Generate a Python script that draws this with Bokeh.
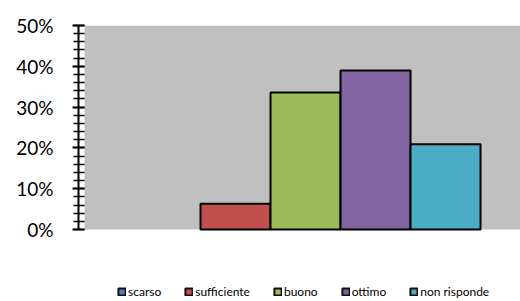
from bokeh.plotting import figure
from bokeh.models import ColumnDataSource, Range1d, NumeralTickFormatter, BoxAnnotation, Legend, LegendItem, SingleIntervalTicker
from bokeh.embed import file_html
from bokeh.resources import INLINE

categories = ["scarso", "sufficiente", "buono", "ottimo", "non risponde"]
values = [0.0, 0.063, 0.336, 0.390, 0.209]
colors = ["#4F81BD", "#C0504D", "#9BBB59", "#8064A2", "#4BACC6"]
positions = [0, 1, 2, 3, 4]

outline = ["black" if v > 0 else None for v in values]
src = ColumnDataSource(dict(x=positions, top=values, cat=categories, color=colors, lc=outline))

p = figure(width=520, height=301, output_backend="svg", toolbar_location=None,
           x_range=Range1d(-1.243, 5.071), y_range=Range1d(-0.1765, 0.5),
           min_border_left=78, min_border_right=0, min_border_top=25, min_border_bottom=0)
p.outline_line_color = None
p.background_fill_color = "white"
p.xgrid.visible = False
p.ygrid.visible = False
p.xaxis.visible = False

bg = BoxAnnotation(left=-1.157, bottom=0, fill_color="#C0C0C0", fill_alpha=1.0,
                   line_alpha=0, level="underlay")
p.add_layout(bg)

r = p.vbar(x="x", top="top", bottom=0, width=1.0, source=src, fill_color="color",
           line_color="lc", line_width=2)
# renderer used only for the legend swatches (all with black outline)
r_leg = p.vbar(x="x", top="top", bottom=0, width=1.0, source=src, fill_color="color",
               line_color="#111111", line_width=2, visible=False)

items = [LegendItem(label=c, renderers=[r_leg], index=i) for i, c in enumerate(categories)]
leg = Legend(items=items, orientation="horizontal", location=(39, 2))
leg.border_line_color = None
leg.background_fill_alpha = 0
leg.inactive_fill_alpha = 0
leg.glyph_width = 9
leg.glyph_height = 9
leg.label_standoff = 2
leg.spacing = 23
leg.padding = 0
leg.margin = 0
leg.label_text_font = "Lato"
leg.label_text_font_size = "12px"
leg.label_text_color = "black"
p.add_layout(leg)

ya = p.yaxis[0]
ya.bounds = (0, 0.5)
ya.ticker = SingleIntervalTicker(interval=0.1, num_minor_ticks=5)
ya.formatter = NumeralTickFormatter(format="0%")
ya.axis_line_color = "black"
ya.axis_line_width = 2
ya.major_tick_line_color = "black"
ya.major_tick_line_width = 2
ya.major_tick_out = 6
ya.major_tick_in = 6
ya.minor_tick_line_color = "black"
ya.minor_tick_line_width = 1.5
ya.minor_tick_out = 5
ya.minor_tick_in = 6
ya.major_label_standoff = 19
ya.major_label_text_font = "Lato"
ya.major_label_text_font_size = "19px"
ya.major_label_text_color = "black"

open("out.html", "w").write(file_html(p, INLINE))
